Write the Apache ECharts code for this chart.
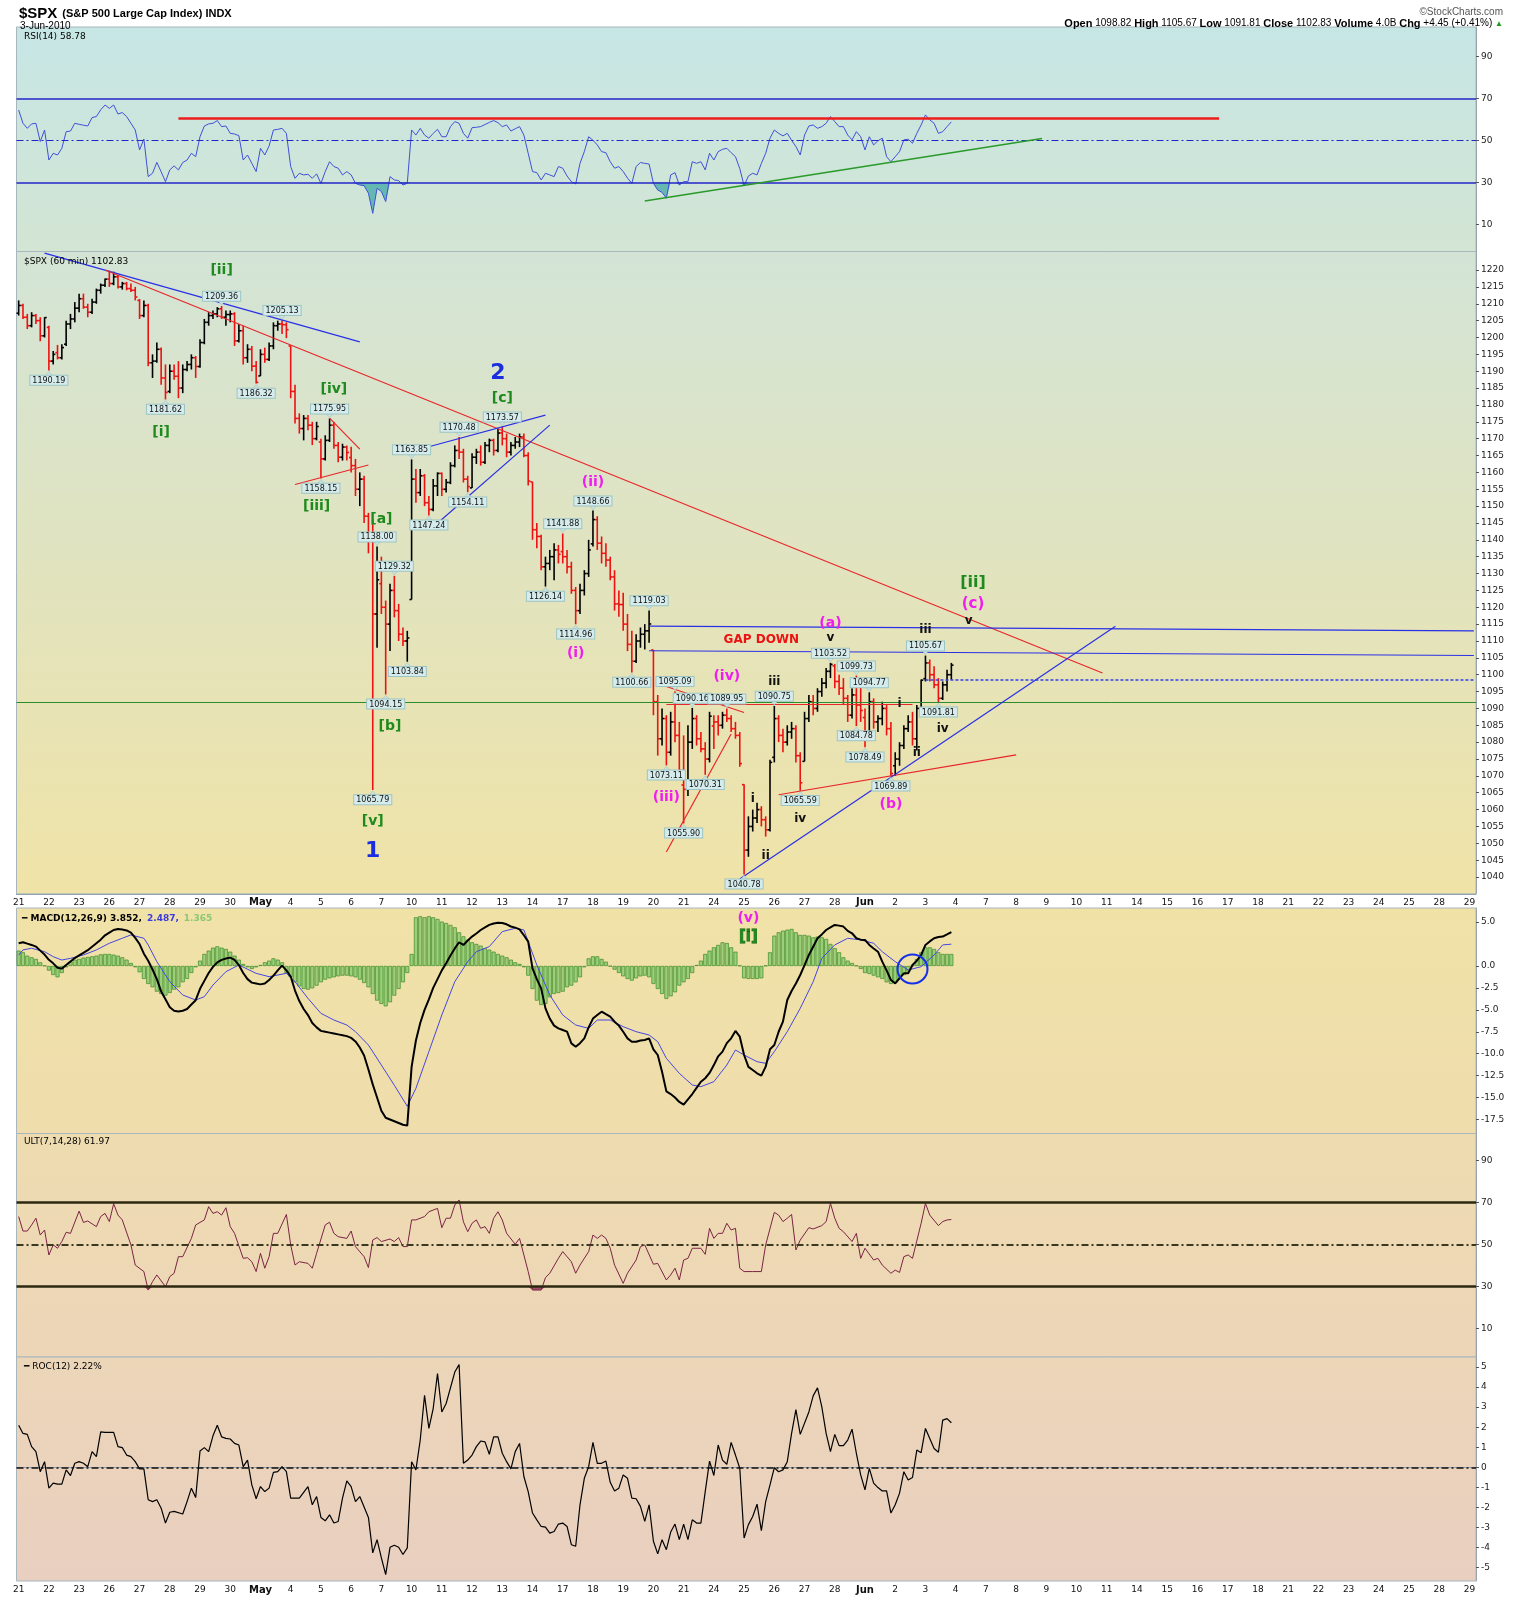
<!DOCTYPE html>
<html>
<head>
<meta charset="utf-8">
<title>$SPX 60 min</title>
<script src="https://cdn.jsdelivr.net/npm/echarts@6/dist/echarts.min.js"></script>
<style>
html, body { margin: 0; padding: 0; background: #fff; }
#chart { width: 1518px; height: 1600px; }
</style>
</head>
<body>
<div id="chart"></div>
<script>
// trading days on the axis (Apr 21 .. Jun 29), 7 hourly slots per day
const dayLabels = ['21','22','23','26','27','28','29','30','May','4','5','6','7','10','11','12','13','14','17','18','19','20','21','24','25','26','27','28','Jun','2','3',
  '4','7','8','9','10','11','14','15','16','17','18','21','22','23','24','25','28','29'];
const barsPerDay = 7;
const slotCount = 338;

// hourly bars [open, high, low, close]
const bars = [
  // Apr 21
  [1207.2,1211,1206.5,1209.5],[1209.5,1210,1205.5,1206],[1206,1207,1202.5,1203.5],[1203.5,1207.5,1203,1206.5],[1206.5,1207,1204,1205],[1205,1206,1198.9,1200.5],[1200.5,1206,1200,1205.9],
  // Apr 22
  [1203,1203.5,1190.19,1193],[1193,1196,1192,1195],[1195.5,1197.8,1193.5,1194],[1194,1198,1193.5,1197],[1198,1205,1197.5,1204],[1204,1207,1202.5,1205.5],[1205.5,1210.5,1204.5,1208.7],
  // Apr 23
  [1208.7,1213,1207.5,1211.5],[1211.5,1213,1208.5,1209],[1209,1210,1206,1207.5],[1207.5,1211.5,1207,1210.5],[1210.5,1214.5,1210,1214],[1214,1216,1213,1215.5],[1215.5,1217.5,1215,1217.3],
  // Apr 26
  [1217.3,1219.8,1215,1216],[1216,1219.5,1215.5,1218],[1218,1218.5,1214.5,1215],[1215,1216.5,1214.2,1216],[1216,1216.5,1214,1214.5],[1214.5,1216,1213.5,1214],[1214,1215,1211,1212],
  // Apr 27
  [1211,1211.4,1205.5,1206.5],[1206.5,1211,1206,1209.5],[1209.5,1210,1191.5,1192.5],[1192.5,1195,1188,1193],[1193,1198.5,1192.5,1196.5],[1196.5,1197,1186,1188],[1188,1192,1181.62,1183.7],
  // Apr 28
  [1184,1192,1183.5,1190],[1190,1192,1187.5,1188.5],[1188.5,1193,1182,1185],[1185,1192,1183.5,1190.5],[1190.5,1193,1190,1192],[1192,1195,1190.5,1194],[1194,1194.5,1188,1191.4],
  // Apr 29
  [1191.4,1199.5,1191,1198.5],[1198.5,1205.5,1198,1204.5],[1204.5,1207.5,1203.5,1206.5],[1206.5,1208,1205.5,1207],[1207,1209,1206,1208.5],[1208.5,1209.36,1205.5,1206],[1206,1208,1203.5,1206.8],
  // Apr 30
  [1206.8,1208,1204.5,1207],[1207,1207.5,1197.5,1199],[1199,1204,1198.5,1202],[1202,1203.5,1192,1194],[1194,1198,1192.5,1196.5],[1196.5,1197.5,1190,1191.5],[1191.5,1193,1186.32,1186.7],
  // May 3
  [1188.6,1196.5,1188.6,1195],[1195,1197,1192.5,1193.5],[1193.5,1198.5,1193,1197.5],[1197.5,1204.5,1196.5,1203.5],[1203.5,1205,1202,1204],[1204,1205.13,1201,1203.8],[1203.8,1204.5,1199.8,1202.3],
  // May 4
  [1197.5,1197.5,1182,1184],[1184,1186,1174.5,1176],[1176,1177.5,1171.5,1173],[1173,1177,1169.5,1176],[1176,1177,1172.5,1174],[1174,1175,1168.1,1170],[1170,1175,1169.5,1173.6],
  // May 5
  [1169,1170,1158.15,1164],[1164,1171,1163.5,1169.5],[1169.5,1175.95,1169,1174],[1174,1175,1167,1168],[1168,1169,1163,1164.5],[1164.5,1168.5,1163.5,1167.5],[1167.5,1168,1163.5,1165.9],
  // May 6
  [1164.4,1167.6,1160,1162],[1162,1164,1153,1155],[1155,1160,1150,1158],[1158,1159,1145,1147],[1147,1148,1136,1140],[1140,1146,1065.79,1118],[1118,1138,1108,1128.15],
  // May 7
  [1127,1135,1118,1120],[1120,1122,1094.15,1115],[1115,1127,1107,1125],[1125,1129.32,1117,1119],[1119,1121,1110,1112],[1112,1114,1108.5,1110],[1110,1113,1103.84,1110.9],
  // May 10
  [1122.3,1163.85,1122.3,1158],[1158,1161,1151,1154],[1154,1161,1153,1159],[1159,1159.5,1150,1151],[1151,1153,1147.24,1149],[1149,1158,1148.5,1156],[1156,1160,1153,1159.7],
  // May 11
  [1159.7,1160,1153,1155],[1155,1158,1154,1157],[1157,1163,1156.5,1162],[1162,1168,1161.5,1166.5],[1166.5,1170.48,1164,1166],[1166,1167,1157,1158],[1158,1159,1154.11,1155.8],
  // May 12
  [1155.4,1165.7,1155.4,1164.5],[1164.5,1167,1162.5,1166],[1166,1168,1162,1163],[1163,1169,1162.5,1168],[1168,1170,1166,1169.5],[1169.5,1170,1165,1166.5],[1166.5,1172.87,1166,1171.67],
  // May 13
  [1171.7,1173.57,1168,1170],[1170,1171.5,1164.5,1166],[1166,1169,1165,1168],[1168,1170.5,1167,1169],[1169,1171.5,1167.5,1170.5],[1170.5,1171.5,1164.5,1165],[1165,1166,1156.14,1157.44],
  // May 14
  [1157.2,1157.2,1140,1143],[1143,1145,1137.5,1141],[1141,1141.5,1131,1132],[1132,1135,1126.14,1133],[1133,1137,1131,1135],[1135,1139,1128,1137],[1137,1138.5,1133,1135.7],
  // May 17
  [1136.5,1141.88,1133,1135],[1135,1137,1130,1132],[1132,1133.5,1124,1125],[1125,1126,1114.96,1119],[1119,1127,1118,1125],[1125,1131,1123.5,1130],[1130,1140,1129,1137],
  // May 18
  [1138.8,1148.66,1138,1146],[1146,1147,1137,1139],[1139,1141,1133,1136],[1136,1139,1132,1134],[1134,1135,1128,1129],[1129,1131,1119,1121],[1121,1125,1117.2,1120.8],
  // May 19
  [1120.8,1124.27,1113,1115],[1115,1118,1107,1109],[1109,1113,1100.66,1104],[1104,1112,1103.5,1110],[1110,1114,1108,1112],[1112,1115,1107.5,1113],[1113,1119.03,1109.5,1115.05],
  // May 20
  [1107.34,1107.34,1088,1092],[1092,1094,1076,1081],[1081,1090,1079,1087],[1087,1088,1073.11,1077],[1077,1089,1076,1086],[1086,1095.09,1080,1082],[1082,1086,1071.6,1071.6],
  // May 21
  [1067.3,1082,1055.9,1066],[1066,1085,1064,1080],[1080,1090.16,1078,1087],[1087,1088,1079,1081],[1081,1083,1077,1078],[1078,1080,1070.31,1075],[1075,1089,1074,1087.7],
  // May 24
  [1084.8,1088,1078,1086],[1086,1088,1082,1085],[1085,1089,1084,1088],[1088,1089.95,1086,1087],[1087,1088,1083,1084],[1084,1086,1081,1082],[1082,1083,1072.7,1073.65],
  // May 25
  [1067.4,1067.5,1040.78,1048],[1048,1058,1046,1055],[1055,1060,1053.5,1057.5],[1057.5,1062,1056,1060],[1060,1061,1055,1057],[1057,1058,1052,1054],[1054,1074.75,1053.5,1074],
  // May 26
  [1075.5,1090.75,1074,1087],[1087,1088,1080,1082],[1082,1084,1077,1080],[1080,1085,1079,1083],[1083,1086,1081,1084],[1084,1085,1074,1076],[1076,1077,1065.59,1067.95],
  // May 27
  [1074.3,1089,1074.3,1087],[1087,1094,1086,1092],[1092,1094,1088,1090],[1090,1096,1089,1095],[1095,1099,1093.5,1097.5],[1097.5,1102,1096,1101],[1101,1103.52,1099,1103.06],
  // May 28
  [1102.6,1103.2,1096,1098],[1098,1100,1094,1096],[1096,1099,1091,1093],[1093,1094,1086,1088],[1088,1096,1087,1094],[1094,1099.73,1084.78,1091],[1091,1097,1086,1089.4],
  // Jun 1
  [1087.3,1090,1078.49,1082],[1082,1094.77,1081,1092],[1092,1093,1084,1086],[1086,1088,1083,1087],[1087,1092,1085,1090],[1090,1091,1082,1084],[1084,1086,1069.89,1070.7],
  // Jun 2
  [1073,1077,1070,1075],[1075,1080,1073,1079],[1079,1085,1078,1084],[1084,1088,1083,1086],[1086,1089,1079,1081],[1081,1091,1077.5,1090],[1090,1098.56,1089,1098.38],
  // Jun 3
  [1098.82,1105.67,1098,1103.5],[1103.5,1104.5,1098,1100],[1100,1102.5,1096,1097],[1097,1099,1091.81,1093],[1093,1098,1092.5,1097],[1097,1101.5,1095,1100],[1100,1103.5,1098.5,1102.83]
];

const rsi = [64.4,58.1,55.7,57.8,58.1,49.4,54.9,40.6,43.8,43.0,
  46.2,54.1,54.4,58.1,57.6,57.2,56.8,60.8,61.3,64.5,
  66.8,65.2,66.8,62.5,63.2,61.3,58.1,54.9,45.4,50.6,
  32.7,34.3,39.5,35.0,30.3,35.9,37.8,35.9,39.4,40.6,
  43.8,42.2,51.7,56.8,57.8,58.1,59.4,56.5,56.8,53.3,
  53.0,52.2,40.6,43.0,39.0,35.1,46.2,43.0,47.3,54.9,
  55.2,55.7,53.3,37.5,31.9,34.3,33.5,33.8,31.9,34.0,
  29.5,35.1,39.8,37.5,36.7,33.5,35.1,33.5,29.5,28.7,
  28.4,24.8,15.2,27.1,25.6,20.8,32.7,31.1,30.8,28.7,
  29.5,54.9,52.5,55.7,52.5,51.0,53.3,55.2,51.7,51.7,
  56.5,58.9,58.1,53.3,51.0,56.0,56.2,56.5,57.5,58.5,
  59.4,58.4,56.5,57.3,54.4,55.5,56.5,52.5,43.8,35.1,
  34.6,31.1,34.3,33.5,32.7,37.5,36.7,33.0,30.3,29.2,
  39.0,44.6,51.7,50.0,47.8,44.6,44.1,39.8,36.7,37.5,
  35.1,32.0,29.5,37.5,39.4,39.0,38.7,29.5,26.3,25.2,
  22.4,33.5,34.6,28.7,30.3,30.3,39.8,39.0,39.8,35.9,
  43.8,40.6,44.6,45.7,46.2,44.1,42.2,36.5,28.4,33.0,
  34.3,33.5,39.0,43.8,51.0,54.9,53.3,52.1,53.3,50.0,
  47.0,43.0,52.5,56.8,57.3,55.7,56.5,58.1,61.3,58.9,
  56.5,56.5,52.5,50.2,54.1,51.7,45.4,51.7,47.8,49.8,
  51.0,42.2,39.8,42.2,44.6,50.2,50.5,48.6,53.3,57.3,
  62.1,59.7,58.1,53.3,54.1,56.5,58.78];

const macd = [2.59,2.70,2.55,2.40,2.21,1.75,1.30,0.70,0.30,-0.20,
  -0.30,0.10,0.50,0.90,1.20,1.50,1.80,2.20,2.60,3.00,
  3.50,3.80,4.10,4.22,4.15,4.05,3.80,3.20,2.50,1.40,
  0.60,-0.40,-1.50,-2.90,-3.80,-4.70,-5.10,-5.20,-5.10,-4.90,
  -4.40,-3.90,-2.60,-1.70,-0.80,-0.10,0.40,0.70,0.85,0.95,
  0.70,0.10,-0.80,-1.50,-1.90,-2.00,-2.10,-2.00,-1.60,-1.10,
  -0.50,0.04,-0.50,-1.20,-2.80,-4.00,-4.90,-5.60,-6.50,-7.00,
  -7.40,-7.50,-7.60,-7.70,-7.80,-7.90,-8.00,-8.20,-8.60,-9.30,
  -10.2,-11.8,-13.5,-15.0,-16.5,-17.3,-17.5,-17.7,-17.9,-18.1,
  -18.2,-11.5,-8.5,-6.5,-5.0,-3.8,-2.5,-1.5,-0.5,0.3,
  1.2,2.0,2.7,2.4,2.9,3.35,3.7,4.1,4.4,4.68,
  4.85,4.94,4.9,4.75,4.5,4.37,4.18,3.5,2.78,-0.27,
  -1.5,-2.55,-4.83,-6.0,-6.8,-7.11,-7.3,-7.49,-8.82,-9.2,
  -8.8,-8.25,-7.0,-6.0,-5.59,-5.21,-5.5,-5.78,-6.35,-6.8,
  -7.5,-8.25,-8.63,-8.63,-8.5,-8.44,-8.25,-9.5,-10.15,-12.05,
  -14.3,-14.6,-15.0,-15.5,-15.8,-15.2,-14.6,-13.9,-13.2,-12.8,
  -12.2,-11.3,-10.3,-9.77,-8.8,-8.25,-7.41,-8.06,-10.15,-11.5,
  -11.86,-12.24,-12.5,-11.48,-9.5,-9.01,-7.5,-6.35,-3.88,-2.85,
  -2.0,-1.03,0.1,1.25,2.2,3.16,3.6,4.1,4.4,4.68,
  4.6,4.49,4.0,3.73,3.16,3.0,2.97,2.4,2.0,1.63,
  0.49,-0.5,-1.6,-1.98,-1.4,-0.84,-0.84,0.11,0.6,1.25,
  2.4,2.8,3.16,3.3,3.35,3.6,3.852];

// signal line read at [bar, value]
const macdSignal = [[0,1.25],[1,1.83],[3,2.02],[6,1.63],[8,1.06],[10,0.68],[12,0.87],[15,1.25],[18,1.83],[21,2.59],[24,3.16],[26,3.54],[29,3.16],[30,2.40],[32,0.49],[35,-1.79],[38,-3.31],[41,-3.88],[43,-3.50],[45,-2.17],[48,-0.65],[51,0.11],[55,-0.84],[58,-1.22],[62,-0.84],[64,-1.79],[67,-3.69],[70,-5.40],[73,-6.16],[76,-6.73],[78,-7.49],[81,-9.01],[84,-11.3],[87,-13.6],[90,-16.0],[92,-13.95],[95,-9.77],[98,-5.59],[101,-1.79],[104,0.49],[106,1.63],[109,2.21],[112,3.92],[115,4.30],[117,4.11],[118,2.78],[120,0.11],[123,-3.31],[126,-5.59],[129,-6.73],[132,-7.11],[134,-6.16],[137,-6.16],[140,-6.92],[143,-7.49],[146,-7.87],[148,-8.63],[150,-10.53],[153,-12.24],[156,-13.57],[158,-13.76],[161,-13.19],[164,-11.29],[166,-9.58],[168,-10.15],[171,-10.91],[173,-11.10],[175,-9.77],[178,-7.49],[181,-4.83],[184,-1.79],[186,0.87],[189,2.40],[192,3.16],[195,2.97],[198,2.59],[200,1.63],[203,0.49],[206,-0.46],[209,-0.08],[212,1.25],[214,2.40],[216,2.487]];

const macdHist = [1.75,1.56,1.18,0.99,0.80,0.42,0.04,-0.53,-1.03,-1.29,
  -0.80,-0.15,0.49,0.72,0.80,0.95,1.03,1.10,1.18,1.33,
  1.37,1.37,1.29,1.18,0.99,0.72,0.34,-0.15,-0.72,-1.48,
  -2.05,-2.43,-2.93,-3.19,-3.38,-3.08,-2.70,-2.43,-1.86,-1.48,
  -0.80,-0.15,0.61,1.37,1.75,2.09,2.24,2.09,1.94,1.63,
  1.18,0.72,0.23,-0.15,-0.34,-0.15,0.11,0.42,0.61,0.87,
  0.72,0.42,-0.80,-1.29,-1.86,-2.32,-2.62,-2.70,-2.55,-2.24,
  -1.86,-1.56,-1.41,-1.29,-1.18,-1.10,-1.10,-1.18,-1.29,-1.56,
  -1.94,-2.43,-3.19,-3.95,-4.33,-4.60,-4.14,-3.38,-2.62,-1.86,
  -0.80,1.37,5.55,5.67,5.55,5.67,5.55,5.36,5.06,4.90,
  4.68,4.41,3.84,3.38,3.00,2.70,2.51,2.32,2.02,1.86,
  1.63,1.37,1.18,0.99,0.72,0.42,0.23,-0.15,-1.10,-2.62,
  -3.95,-4.45,-4.33,-3.57,-3.19,-3.08,-2.93,-2.43,-2.24,-1.86,
  -1.29,-0.15,0.87,1.10,1.10,0.80,0.49,-0.04,-0.42,-0.80,
  -1.18,-1.48,-1.67,-1.41,-1.18,-1.10,-1.29,-2.05,-2.62,-3.19,
  -3.76,-3.46,-3.00,-2.24,-1.86,-1.48,-0.80,0.11,0.61,1.37,
  1.75,2.13,2.40,2.70,2.62,2.13,1.63,0.04,-1.41,-1.48,
  -1.48,-1.48,-1.41,0.04,1.56,3.46,3.84,4.03,4.14,4.22,
  3.84,3.54,3.54,3.46,3.27,3.35,3.27,3.08,2.51,2.02,
  1.56,0.99,0.61,0.34,0.04,-0.34,-0.80,-0.91,-1.10,-1.29,
  -1.48,-1.86,-2.05,-1.94,-1.48,-1.03,-0.65,0.04,0.80,1.56,
  2.13,2.13,1.94,1.56,1.37,1.37,1.365];

const ult = [[0,63.4],[1,56.5],[2,56.5],[3,59.4],[4,62.6],[5,54.6],[6,57.0],[7,45.1],[8,49.9],[9,48.3],[10,51.5],[11,55.9],[12,55.4],[14,66.0],[15,60.6],[16,61.3],[18,58.6],[19,63.4],[20,64.9],[21,61.0],[22,69.5],[23,64.1],[24,61.8],[26,49.9],[27,40.3],[29,37.2],[30,28.4],[31,32.4],[32,35.6],[34,30.0],[35,34.8],[36,36.4],[37,44.3],[38,44.3],[40,53.0],[41,59.4],[43,61.8],[44,68.1],[45,64.9],[46,65.7],[47,64.1],[48,67.6],[49,58.6],[50,55.4],[52,43.5],[53,43.8],[54,41.9],[55,37.2],[56,45.9],[57,38.8],[58,44.3],[59,55.4],[60,55.4],[62,64.4],[63,49.9],[64,40.3],[65,41.9],[67,41.1],[68,38.8],[69,45.9],[71,59.4],[72,60.7],[73,55.4],[74,53.8],[76,53.0],[77,56.5],[78,49.1],[80,44.3],[81,39.1],[82,52.2],[83,53.4],[84,51.5],[86,52.7],[87,51.5],[88,53.4],[89,49.1],[90,49.1],[91,61.8],[92,61.8],[94,63.4],[95,65.7],[97,67.3],[98,58.1],[99,62.6],[100,62.6],[101,68.9],[102,71.3],[103,60.9],[104,56.2],[105,60.2],[106,61.8],[107,57.8],[108,58.6],[109,55.4],[110,62.6],[111,65.7],[112,61.8],[113,55.4],[115,50.2],[116,53.0],[117,45.1],[118,37.2],[119,28.4],[121,28.4],[122,34.3],[123,36.4],[125,43.5],[126,46.7],[128,41.9],[129,36.4],[130,40.3],[132,46.7],[133,54.6],[134,53.0],[135,54.6],[136,53.0],[137,48.3],[138,40.3],[140,31.6],[141,36.4],[143,42.7],[144,49.1],[145,49.9],[147,40.7],[148,41.1],[150,33.2],[151,35.6],[152,38.8],[153,33.2],[154,42.7],[155,43.5],[156,48.3],[158,48.3],[159,45.4],[160,57.8],[161,53.0],[162,55.4],[163,55.4],[164,60.2],[165,57.0],[166,57.8],[167,38.8],[168,37.2],[170,37.2],[172,37.2],[173,49.9],[175,65.4],[176,64.1],[177,61.0],[178,62.6],[179,64.4],[180,47.5],[181,52.2],[183,58.1],[184,57.5],[186,59.1],[187,61.0],[188,69.7],[189,62.6],[190,57.8],[191,56.2],[193,51.5],[194,55.4],[195,43.5],[196,48.3],[198,42.7],[199,43.5],[200,40.3],[202,36.4],[203,37.9],[204,36.8],[205,44.3],[206,45.1],[207,43.5],[209,60.2],[210,69.7],[211,64.1],[213,59.1],[214,61.0],[215,61.8],[216,61.97]];

const roc = [[0,2.10],[1,1.69],[2,1.64],[3,1.03],[4,0.78],[5,-0.22],[6,0.28],[7,-1.04],[8,-0.79],[9,-0.84],[10,-0.84],[11,-0.13],[12,-0.41],[13,0.20],[14,0.28],[15,0.20],[16,0.03],[17,0.78],[18,0.53],[19,1.77],[20,1.74],[22,1.74],[23,1.03],[24,0.98],[25,0.61],[26,0.53],[27,0.28],[28,-0.08],[29,-0.08],[30,-1.62],[31,-1.71],[32,-1.62],[33,-2.04],[34,-2.78],[35,-2.24],[36,-2.20],[38,-2.33],[39,-1.71],[40,-1.04],[41,-1.51],[42,0.81],[43,0.98],[44,0.78],[45,1.57],[46,2.10],[47,1.52],[48,1.44],[49,1.41],[50,1.19],[51,1.11],[52,0.03],[53,0.36],[54,-0.88],[55,-1.57],[56,-0.96],[57,-1.21],[58,-1.04],[59,-0.25],[60,-0.22],[61,0.03],[62,-0.22],[63,-1.54],[64,-1.54],[65,-1.54],[67,-0.96],[68,-1.87],[69,-1.46],[70,-2.50],[71,-2.67],[72,-2.37],[73,-2.78],[74,-2.70],[75,-1.54],[76,-0.68],[77,-0.96],[78,-1.71],[79,-1.46],[81,-2.50],[82,-4.27],[83,-3.61],[84,-4.52],[85,-5.35],[86,-3.99],[87,-3.89],[88,-3.99],[89,-4.35],[90,-4.02],[91,0.28],[92,-0.13],[93,1.36],[94,3.59],[95,1.94],[96,2.93],[97,4.67],[98,2.76],[99,3.18],[101,4.75],[102,5.12],[103,0.20],[104,0.36],[105,0.61],[106,1.03],[107,1.31],[108,1.27],[109,0.65],[110,1.52],[111,1.52],[112,0.70],[113,0.28],[114,-0.08],[115,0.78],[116,1.19],[117,-0.46],[118,-1.21],[119,-2.28],[120,-2.62],[121,-2.95],[122,-2.98],[123,-3.28],[124,-3.20],[125,-2.83],[126,-2.78],[127,-2.95],[128,-3.86],[129,-3.94],[130,-1.87],[131,-0.55],[132,0.03],[133,1.24],[134,0.20],[135,0.20],[136,0.31],[137,-0.75],[138,-1.18],[139,-1.04],[140,-0.38],[141,-0.55],[142,-1.54],[143,-1.57],[144,-1.95],[145,-2.70],[146,-1.87],[147,-3.69],[148,-4.32],[149,-3.61],[150,-4.11],[151,-3.23],[152,-2.83],[153,-3.61],[154,-2.83],[155,-3.61],[156,-2.62],[157,-2.78],[158,-2.78],[159,-1.21],[160,0.31],[161,-0.41],[162,1.11],[163,0.36],[164,0.15],[165,1.24],[166,0.61],[167,-0.05],[168,-3.53],[169,-2.86],[170,-2.45],[171,-1.84],[172,-3.16],[173,-1.71],[174,-0.88],[175,-0.02],[176,-0.22],[177,-0.13],[178,0.28],[179,1.69],[180,2.88],[181,1.64],[183,2.76],[184,3.56],[185,3.96],[186,3.01],[187,1.69],[188,0.78],[189,1.64],[190,1.08],[191,1.08],[192,1.36],[193,1.90],[194,0.70],[195,-0.38],[196,-1.13],[197,-0.05],[198,-0.79],[199,-1.01],[200,-1.18],[201,-1.18],[202,-2.28],[203,-1.87],[204,-1.29],[205,-0.22],[206,-0.63],[207,-0.51],[208,0.86],[209,0.73],[210,1.94],[211,1.44],[212,0.94],[213,0.75],[214,2.35],[215,2.43],[216,2.22]];

// axis tick values
const priceTicks = [1040,1045,1050,1055,1060,1065,1070,1075,1080,1085,1090,1095,1100,1105,1110,1115,1120,1125,1130,1135,1140,1145,1150,1155,1160,1165,1170,1175,1180,1185,1190,1195,1200,1205,1210,1215,1220];
const rsiTicks = [10,30,50,70,90];
const macdTicks = [5,0,-2.5,-5,-7.5,-10,-12.5,-15,-17.5];
const ultTicks = [10,30,50,70,90];
const rocTicks = [-5,-4,-3,-2,-1,0,1,2,3,4,5];

// swing labels: bar index and whether the high or the low is tagged
const pivots = [[7,'low'],[34,'low'],[47,'high'],[55,'low'],[61,'high'],[72,'high'],[70,'low'],[83,'high'],[87,'high'],[90,'low'],
  [85,'low'],[82,'low'],[91,'high'],[95,'low'],[102,'high'],[104,'low'],[112,'high'],[122,'low'],[126,'high'],[129,'low'],
  [133,'high'],[142,'low'],[146,'high'],[152,'high'],[150,'low'],[156,'high'],[159,'low'],[164,'high'],[154,'low'],[168,'low'],
  [175,'high'],[181,'low'],[188,'high'],[194,'high'],[197,'high'],[194,'low'],[196,'low'],[202,'low'],[210,'high'],[213,'low']];

// wave count text [bar, price, text, color, size]
const waveLabels = [
  [46.6,1220,'[ii]','#1c8a1c',14],[33.4,1171.8,'[i]','#1c8a1c',14],[73.3,1184.5,'[iv]','#1c8a1c',14],[69.3,1150,'[iii]','#1c8a1c',14],
  [84.2,1146.2,'[a]','#1c8a1c',14],[85.9,1084.8,'[b]','#1c8a1c',14],[82,1056.6,'[v]','#1c8a1c',14],[82,1047.5,'1','#1a2ee0',22],
  [111.2,1189.5,'2','#1a2ee0',22],[111.9,1182,'[c]','#1c8a1c',14],[132.8,1157,'(ii)','#f01cf0',14],[128.5,1106.4,'(i)','#f01cf0',14],
  [150.3,1063.7,'(iii)','#f01cf0',14],[164.2,1099.6,'(iv)','#f01cf0',14],[171.8,1110.4,'GAP DOWN','#ee1111',12],
  [175,1098,'iii','#111',12],[170.4,1063.2,'i','#111',12],[172.5,1046.2,'ii','#111',12],[181.3,1057.2,'iv','#111',12],
  [188,1115.3,'(a)','#f01cf0',14],[187.5,1111,'v','#111',12],[204.1,1091.3,'i','#111',12],[208.4,1076.8,'ii','#111',12],
  [209.5,1113.2,'iii','#111',12],[214,1083.9,'iv','#111',12],[202,1061.6,'(b)','#f01cf0',14],
  [221.1,1127.3,'[ii]','#1c8a1c',16],[221.1,1121,'(c)','#f01cf0',15],[220.3,1116,'v','#111',12]
];

// drawn trend lines on the price panel [bar1, price1, bar2, price2, color]
const priceLines = [
  [6.3,1225,78.8,1198.7,'#2a30e6'],
  [20,1220,251.3,1100.5,'#e8262a'],
  [71.9,1176.1,78.8,1166.9,'#e8262a'],
  [63.9,1156.4,80.6,1162.2,'#e8262a'],
  [94.8,1167.6,121.5,1177,'#2a30e6'],
  [96,1143.8,122.7,1174,'#2a30e6'],
  [146,1114.4,337,1113,'#2a30e6'],
  [146,1107.1,337,1105.7,'#2a30e6'],
  [150,1091.3,207,1091.3,'#e8262a'],
  [150.3,1047.4,164.9,1082.4,'#e8262a'],
  [149.9,1096.5,167.9,1088.8,'#e8262a'],
  [176.2,1064.4,231.3,1076.2,'#e8262a'],
  [167.3,1039.4,253.7,1114.4,'#2a30e6']
];
// lines on the RSI panel [bar1, rsi1, bar2, rsi2, color, width]
const rsiLines = [[36.5,60.5,277.5,60.5,'#ee1c1c',2.5],[144.9,21.1,237.4,50.8,'#2a9a2a',1.5]];

// ---- derived layout helpers ----
const slotLabels = [];
dayLabels.forEach(d => { for (let k = 0; k < barsPerDay; k++) slotLabels.push(k === 0 ? d : ''); });
const categories = slotLabels.slice(0, slotCount).map((_, i) => String(i));

const closes = bars.map(b => b[3]);
const ohlcData = bars.map((b, i) => [i, b[0], b[1], b[2], b[3], (i === 0 || b[3] >= bars[i - 1][3]) ? 1 : 0]);
const lastDay = bars.slice(-barsPerDay);
const dayOpen = lastDay[0][0];
const dayHigh = Math.max(...lastDay.map(b => b[1]));
const dayLow = Math.min(...lastDay.map(b => b[2]));
const lastClose = closes[closes.length - 1];
const prevClose = closes[closes.length - barsPerDay - 1];
const chg = lastClose - prevClose;

const FONT = 'DejaVu Sans';
const NARROW = "'Liberation Sans Narrow', 'Liberation Sans', sans-serif";
const left = 16.5, right = 42;

function vgrad(a, b) {
  return new echarts.graphic.LinearGradient(0, 0, 0, 1, [{ offset: 0, color: a }, { offset: 1, color: b }]);
}

function xAxisFor(gridIndex, showLabels) {
  return {
    type: 'category', gridIndex, data: categories, boundaryGap: true,
    axisLine: { show: showLabels, lineStyle: { color: '#8a9aa8', type: 'dotted' } },
    axisTick: { show: false },
    splitLine: { show: false },
    axisLabel: {
      show: showLabels, interval: (i) => i % barsPerDay === 0, margin: 4,
      fontFamily: FONT, fontSize: 9, color: '#111',
      formatter: (v) => { const t = slotLabels[+v]; return (t === 'May' || t === 'Jun') ? '{b|' + t + '}' : t; },
      rich: { b: { fontWeight: 'bold', fontFamily: FONT, fontSize: 10, color: '#111' } }
    }
  };
}

function yAxisFor(gridIndex, min, max, ticks, fmt) {
  return {
    type: 'value', gridIndex, position: 'right', min, max,
    axisLine: { show: true, lineStyle: { color: '#9aa6ae' } },
    axisTick: { show: true, length: 3, customValues: ticks, lineStyle: { color: '#555' } },
    splitLine: { show: false },
    axisLabel: { customValues: ticks, formatter: fmt, fontFamily: FONT, fontSize: 9, color: '#222', margin: 5 }
  };
}

function tag(value, text, border, bg) {
  return {
    yAxis: value, lineStyle: { opacity: 0, width: 0 },
    label: {
      show: true, position: 'end', distance: 3, formatter: text,
      fontFamily: FONT, fontSize: 9, color: '#000',
      backgroundColor: bg || '#d8eeee', borderColor: border, borderWidth: 1, padding: [1, 2, 0, 2]
    }
  };
}

function hline(value, color, width, type) {
  return { yAxis: value, lineStyle: { color, width, type: type || 'solid' }, label: { show: false } };
}

function segment(l, width) {
  return [{ coord: [l[0], l[1]], lineStyle: { color: l[4], width: width || 1.2, type: 'solid' } }, { coord: [l[2], l[3]] }];
}

function renderOHLC(params, api) {
  const i = api.value(0);
  const o = api.coord([i, api.value(1)]);
  const h = api.coord([i, api.value(2)]);
  const l = api.coord([i, api.value(3)]);
  const c = api.coord([i, api.value(4)]);
  const w = api.size([1, 0])[0] * 0.5;
  const style = { stroke: api.value(5) ? '#000' : '#ee1111', lineWidth: 1.6 };
  return {
    type: 'group',
    children: [
      { type: 'line', shape: { x1: h[0], y1: h[1], x2: l[0], y2: l[1] }, style },
      { type: 'line', shape: { x1: o[0] - w, y1: o[1], x2: o[0], y2: o[1] }, style },
      { type: 'line', shape: { x1: c[0], y1: c[1], x2: c[0] + w, y2: c[1] }, style }
    ]
  };
}

const pivotPoints = pivots.map(([bar, kind]) => {
  const high = kind === 'high';
  const price = high ? bars[bar][1] : bars[bar][2];
  return {
    coord: [bar, price], value: price,
    symbol: 'triangle', symbolSize: [7, 4], symbolRotate: high ? 180 : 0, symbolOffset: [0, high ? -3 : 3],
    itemStyle: { color: '#c9e3e3', borderColor: '#93bdbd', borderWidth: 0.5 },
    label: {
      show: true, position: high ? 'top' : 'bottom', distance: 0, formatter: price.toFixed(2),
      fontFamily: FONT, fontSize: 8, color: '#111',
      backgroundColor: '#d6ecec', borderColor: '#9cc4c4', borderWidth: 1, padding: [1, 2, 0, 2]
    }
  };
});

const wavePoints = waveLabels.map(w => ({
  coord: [w[0], w[1]], symbol: 'circle', symbolSize: 0,
  label: { show: true, position: 'inside', formatter: w[2], color: w[3], fontSize: w[4], fontWeight: 'bold', fontFamily: FONT }
}));

const panelTitle = (text, top, color) => ({
  text, left: 19, top, textStyle: { fontFamily: FONT, fontSize: 9, fontWeight: 'normal', color: color || '#000' }
});

const option = {
  animation: false,
  backgroundColor: '#ffffff',
  title: [
    { text: '{a|$SPX} {b|(S&P 500 Large Cap Index) INDX}', left: 14, top: 0,
      textStyle: { rich: { a: { fontFamily: NARROW, fontSize: 15, fontWeight: 'bold', color: '#000' }, b: { fontFamily: NARROW, fontSize: 11, color: '#000' } } } },
    { text: '3-Jun-2010', left: 15, top: 16, textStyle: { fontFamily: NARROW, fontSize: 10, fontWeight: 'normal', color: '#000' } },
    { text: '©StockCharts.com', right: 10, top: 2, textStyle: { fontFamily: NARROW, fontSize: 10, fontWeight: 'normal', color: '#555' } },
    { text: '{k|Open} ' + dayOpen.toFixed(2) + ' {k|High} ' + dayHigh.toFixed(2) + ' {k|Low} ' + dayLow.toFixed(2) + ' {k|Close} ' + lastClose.toFixed(2) +
            ' {k|Volume} 4.0B {k|Chg} +' + chg.toFixed(2) + ' (+' + (chg / prevClose * 100).toFixed(2) + '%) {u|▲}',
      right: 10, top: 13,
      textStyle: { fontFamily: NARROW, fontSize: 10, fontWeight: 'normal', color: '#000',
        rich: { k: { fontFamily: NARROW, fontSize: 11, fontWeight: 'bold', color: '#000' }, u: { color: '#1a9a1a', fontSize: 8 } } } },
    panelTitle('RSI(14) ' + rsi[rsi.length - 1].toFixed(2), 27),
    panelTitle('$SPX (60 min) ' + lastClose.toFixed(2), 252),
    { text: '{k|━ MACD(12,26,9) ' + macd[macd.length - 1].toFixed(3) + ',} {s|' + macdSignal[macdSignal.length - 1][1].toFixed(3) + ',} {h|' + macdHist[macdHist.length - 1].toFixed(3) + '}',
      left: 17, top: 905,
      textStyle: { rich: { k: { fontFamily: FONT, fontSize: 9, color: '#000' }, s: { fontFamily: FONT, fontSize: 9, color: '#3a3ae0' }, h: { fontFamily: FONT, fontSize: 9, color: '#8cc870' } } } },
    panelTitle('ULT(7,14,28) ' + ult[ult.length - 1][1].toFixed(2), 1132, '#000'),
    panelTitle('━ ROC(12) ' + roc[roc.length - 1][1].toFixed(2) + '%', 1357)
  ],
  grid: [
    { left, right, top: 27, height: 225, show: true, borderColor: '#a8b6be', borderWidth: 1, backgroundColor: vgrad('#c6e6e5', '#d3e5d3') },
    { left, right, top: 251.5, height: 642.4, show: true, borderColor: '#a8b6be', borderWidth: 1, backgroundColor: vgrad('#d3e4d6', '#f0e3a7') },
    { left, right, top: 908, height: 225.5, show: true, borderColor: '#a8b6be', borderWidth: 1, backgroundColor: vgrad('#f0e2a7', '#efddad') },
    { left, right, top: 1133.5, height: 223.5, show: true, borderColor: '#a8b6be', borderWidth: 1, backgroundColor: vgrad('#eedcb0', '#edd5b8') },
    { left, right, top: 1357, height: 224, show: true, borderColor: '#a8b6be', borderWidth: 1, backgroundColor: vgrad('#ecd6b8', '#e9cfc0') }
  ],
  xAxis: [xAxisFor(0, false), xAxisFor(1, true), xAxisFor(2, false), xAxisFor(3, false), xAxisFor(4, true)],
  yAxis: [
    yAxisFor(0, -3.2, 103.95, rsiTicks, (v) => String(v)),
    yAxisFor(1, 1035, 1225.5, priceTicks, (v) => String(v)),
    yAxisFor(2, -19.1, 6.61, macdTicks, (v) => v.toFixed(1)),
    yAxisFor(3, -3.48, 102.95, ultTicks, (v) => String(v)),
    yAxisFor(4, -5.67, 5.5, rocTicks, (v) => String(v))
  ],
  series: [
    // RSI
    { type: 'line', xAxisIndex: 0, yAxisIndex: 0, data: rsi.map(v => Math.min(v, 30)), symbol: 'none', silent: true,
      lineStyle: { width: 0 }, areaStyle: { origin: 30, color: '#5eb4b1', opacity: 0.95 }, z: 2 },
    { type: 'line', xAxisIndex: 0, yAxisIndex: 0, data: rsi, symbol: 'none', silent: true,
      lineStyle: { color: '#4050d8', width: 1 }, z: 3,
      markLine: { silent: true, symbol: ['none', 'none'], label: { show: false },
        data: [hline(70, '#2424c8', 1.5), hline(30, '#2424c8', 1.5), hline(50, '#2424c8', 1.2, [7, 3, 2, 3]),
          ...rsiLines.map(l => segment(l, l[5])), tag(rsi[rsi.length - 1], rsi[rsi.length - 1].toFixed(2), '#6aa8a8')] } },
    // price bars
    { type: 'custom', xAxisIndex: 1, yAxisIndex: 1, data: ohlcData, renderItem: renderOHLC, encode: { x: 0, y: [1, 2, 3, 4] }, silent: true, z: 2 },
    // price annotations
    { type: 'line', xAxisIndex: 1, yAxisIndex: 1, data: closes, symbol: 'none', silent: true, lineStyle: { opacity: 0 }, z: 4,
      markLine: { silent: true, symbol: ['none', 'none'], label: { show: false },
        data: [hline(dayLow, '#2a8c2a', 1),
          [{ coord: [210, prevClose], lineStyle: { color: '#3340e8', width: 1.5, type: [3, 2] } }, { coord: [337, prevClose] }],
          ...priceLines.map(l => segment(l)),
          tag(lastClose, lastClose.toFixed(2), '#000', '#d8f0f0')] },
      markPoint: { silent: true, data: [...pivotPoints, ...wavePoints] } },
    // MACD
    { type: 'bar', xAxisIndex: 2, yAxisIndex: 2, data: macdHist, barWidth: '92%', silent: true,
      itemStyle: { color: '#9ccf7a', borderColor: '#3d8a28', borderWidth: 0.7 }, z: 2 },
    { type: 'line', xAxisIndex: 2, yAxisIndex: 2, data: macdSignal, symbol: 'none', silent: true, lineStyle: { color: '#4646e2', width: 1 }, z: 3 },
    { type: 'line', xAxisIndex: 2, yAxisIndex: 2, data: macd, symbol: 'none', silent: true, lineStyle: { color: '#000', width: 2 }, z: 4,
      markLine: { silent: true, symbol: ['none', 'none'],
        data: [tag(macd[macd.length - 1], macd[macd.length - 1].toFixed(3), '#000', '#e6f0ee'),
          tag(macdSignal[macdSignal.length - 1][1], macdSignal[macdSignal.length - 1][1].toFixed(3), '#3a3ae0', '#e6f0ee'),
          tag(macdHist[macdHist.length - 1], macdHist[macdHist.length - 1].toFixed(3), '#7cc060', '#e6f0ee')] },
      markPoint: { silent: true, data: [
        { coord: [207.4, -0.34], symbol: 'circle', symbolSize: [30, 29], itemStyle: { color: 'rgba(0,0,0,0)', borderColor: '#1530e8', borderWidth: 2 }, label: { show: false } },
        { coord: [168.7, 5.45], symbol: 'circle', symbolSize: 0, label: { show: true, position: 'inside', formatter: '(v)', color: '#f01cf0', fontSize: 14, fontWeight: 'bold', fontFamily: FONT } },
        { coord: [169.4, 3.25], symbol: 'circle', symbolSize: 0, label: { show: true, position: 'inside', formatter: '[i]', color: '#1c8a1c', fontSize: 15, fontWeight: 'bold', fontFamily: FONT, textBorderColor: '#0c5a0c', textBorderWidth: 0.8 } }
      ] } },
    // ULT
    { type: 'line', xAxisIndex: 3, yAxisIndex: 3, data: ult.map(p => [p[0], Math.min(p[1], 30)]), symbol: 'none', silent: true,
      lineStyle: { width: 0 }, areaStyle: { origin: 30, color: '#8a3050', opacity: 0.8 }, z: 2 },
    { type: 'line', xAxisIndex: 3, yAxisIndex: 3, data: ult, symbol: 'none', silent: true, lineStyle: { color: '#7a2444', width: 1 }, z: 3,
      markLine: { silent: true, symbol: ['none', 'none'], label: { show: false },
        data: [hline(70, '#2b2812', 2.5), hline(30, '#2b2812', 2.5), hline(50, '#3a3820', 2, [7, 3, 2, 3]),
          tag(ult[ult.length - 1][1], ult[ult.length - 1][1].toFixed(2), '#8a2a50', '#eeeaea')] } },
    // ROC
    { type: 'line', xAxisIndex: 4, yAxisIndex: 4, data: roc, symbol: 'none', silent: true, lineStyle: { color: '#000', width: 1.2 }, z: 3,
      markLine: { silent: true, symbol: ['none', 'none'], label: { show: false },
        data: [hline(0, '#111', 1.5, [7, 3, 2, 3]), tag(roc[roc.length - 1][1], roc[roc.length - 1][1].toFixed(2), '#000', '#d8f0f0')] } }
  ]
};

const chart = echarts.init(document.getElementById('chart'));
chart.setOption(option);
</script>
</body>
</html>
